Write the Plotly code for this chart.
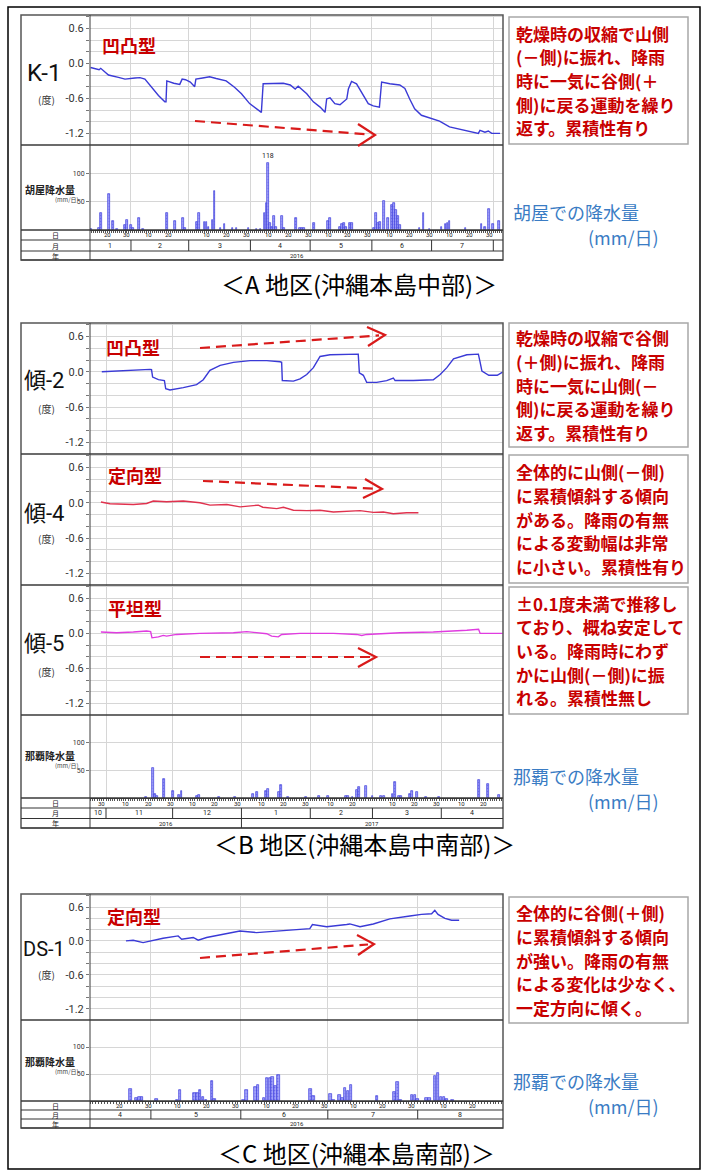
import pandas as pd
import plotly.graph_objects as go

W, H = 708, 1173

# ---------------- A 地区 (沖縄本島中部): K-1 と胡屋の日降水量 ----------------
A_BASE = "2016-01-01"                      # day numbers count from this date
A_RANGE = ["2016-01-11 10:00", "2016-08-05 21:00"]
k1_day = [10.7, 15.0, 15.8, 19.7, 24.7, 28.0, 33.0, 35.5, 38.0, 41.4, 44.8, 48.0, 48.6, 49.0,
          52.5, 55.5, 56.7, 58.4, 60.8, 63.0, 63.6, 67.0, 70.5, 73.8, 78.8, 83.0, 86.5, 90.6,
          95.6, 96.5, 97.4, 102.5, 107.5, 111.0, 113.5, 115.0, 119.3, 122.6, 126.0, 128.5,
          129.3, 131.0, 133.4, 136.0, 138.5, 139.4, 140.2, 141.8, 144.3, 146.8, 150.2, 152.7,
          155.8, 156.9, 161.0, 166.0, 168.6, 171.0, 173.5, 176.9, 181.0, 186.0, 191.0, 196.0,
          201.0, 205.5, 206.3, 208.8, 210.5, 212.2, 216.4]
k1_deg = [-0.07, -0.11, -0.085, -0.20, -0.24, -0.27, -0.25, -0.245, -0.27, -0.41, -0.55, -0.66, -0.66, -0.30,
          -0.34, -0.36, -0.27, -0.28, -0.32, -0.40, -0.27, -0.25, -0.23, -0.26, -0.30, -0.41, -0.52, -0.69,
          -0.81, -0.84, -0.35, -0.34, -0.34, -0.37, -0.44, -0.39, -0.52, -0.66, -0.75, -0.84,
          -0.61, -0.59, -0.69, -0.71, -0.64, -0.61, -0.44, -0.31, -0.35, -0.49, -0.69, -0.73,
          -0.75, -0.32, -0.35, -0.37, -0.43, -0.61, -0.78, -0.89, -0.94, -0.99, -1.09, -1.13,
          -1.16, -1.20, -1.15, -1.18, -1.16, -1.20, -1.20]
koya_day = [11, 15, 16, 20, 22, 24, 28, 29, 31, 32, 35, 37, 49, 53, 57, 58, 64, 65, 68, 69,
            70, 72, 73, 76, 78, 82, 84, 90, 94, 96, 98, 99, 100, 101, 102, 103, 104, 107, 108, 114,
            116, 117, 118, 123, 130, 131, 136, 137, 138, 139, 141, 142, 153, 154, 155, 156, 158, 160, 162, 163,
            164, 165, 166, 176, 178, 181, 187, 189, 190, 191, 199, 207, 209, 211, 213, 216]
koya_mm = [2, 3, 30, 64, 16, 2, 9, 18, 9, 4, 21, 2, 30, 16, 22, 3, 14, 30, 14, 15,
           6, 18, 69, 3, 10, 3, 4, 4, 2, 2, 30, 48, 118, 12, 5, 25, 5, 25, 3, 21,
           3, 4, 4, 12, 16, 22, 6, 10, 13, 6, 12, 12, 3, 30, 12, 14, 52, 21, 45, 48,
           36, 24, 8, 3, 30, 2, 6, 10, 12, 16, 3, 11, 5, 37, 10, 16]

# ---------------- B 地区 (沖縄本島中南部): 傾-2 / 傾-4 / 傾-5 と那覇の日降水量 ----------------
B_BASE = "2016-11-01"
B_RANGE = ["2016-10-24 19:00", "2017-04-28 19:00"]
kei2_day = [-1.9, 9.3, 19.8, 20.5, 21.0, 23.6, 26.3, 26.9, 28.8, 34.8,
            40.8, 43.8, 46.8, 51.4, 57.4, 64.9, 72.4, 78.4, 79.1, 79.4,
            84.4, 87.4, 90.4, 93.4, 96.4, 100.9, 108.4, 113.6, 114.1, 115.9,
            117.4, 121.9, 126.4, 129.4, 130.2, 138.4, 147.4, 150.5, 153.5, 156.5,
            162.5, 167.7, 168.5, 169.3, 172.4, 176.2, 178.6]
kei2_deg = [0.0, 0.024, 0.04, 0.035, -0.09, -0.135, -0.15, -0.29, -0.31, -0.27,
            -0.22, -0.135, 0.024, 0.11, 0.16, 0.19, 0.19, 0.17, 0.16, -0.15,
            -0.16, -0.12, -0.047, 0.07, 0.26, 0.29, 0.30, 0.30, -0.018, -0.06,
            -0.18, -0.18, -0.15, -0.106, -0.15, -0.15, -0.135, -0.047, 0.07, 0.22,
            0.29, 0.30, 0.16, 0.012, -0.06, -0.06, -0.006]
kei4_day = [-2.3, 1.8, 12.3, 18.3, 21.3, 27.3, 34.8, 42.3, 46.8, 54.4,
            60.4, 68.6, 70.6, 76.9, 79.9, 84.4, 90.4, 96.4, 102.4, 108.4,
            114.4, 120.4, 124.9, 129.4, 135.4, 140.7]
kei4_deg = [0.012, -0.017, -0.03, -0.012, 0.03, 0.017, 0.03, 0.0, -0.04, -0.03,
            -0.07, -0.04, -0.076, -0.10, -0.076, -0.128, -0.134, -0.128, -0.157, -0.15,
            -0.134, -0.163, -0.157, -0.186, -0.17, -0.17]
kei5_day = [-2.3, 4.8, 12.3, 18.3, 20.1, 20.7, 23.6, 25.8, 27.3, 31.8,
            42.3, 57.4, 63.4, 69.4, 72.4, 74.6, 77.6, 79.1, 87.4, 102.4,
            112.9, 115.2, 117.4, 132.4, 147.4, 162.5, 166.3, 167.8, 168.5, 178.6]
kei5_deg = [0.024, 0.012, 0.024, 0.04, 0.03, -0.076, -0.06, -0.035, -0.047, -0.018,
            0.0, 0.012, 0.03, 0.012, -0.006, -0.047, -0.06, -0.018, 0.0, 0.0,
            -0.018, -0.035, -0.018, 0.012, 0.024, 0.053, 0.07, 0.07, 0.0, 0.0]
nahaB_day = [18, 21, 22, 23, 26, 30, 33, 34, 41, 42, 51, 58, 66, 68, 72, 73, 78, 79, 82, 90,
             96, 100, 108, 109, 111, 113, 114, 117, 120, 124, 125, 129, 130, 132, 133, 137, 138, 140, 144, 150,
             168, 172, 177]
nahaB_mm = [2, 54, 7, 3, 35, 12, 5, 12, 3, 6, 1, 1, 7, 11, 12, 16, 10, 24, 2, 2,
            4, 4, 3, 3, 2, 15, 20, 22, 4, 4, 4, 7, 29, 4, 4, 7, 12, 10, 2, 2,
            32, 26, 5]

# ---------------- C 地区 (沖縄本島南部): DS-1 と那覇の日降水量 ----------------
C_BASE = "2016-05-01"
C_RANGE = ["2016-04-10 00:00", "2016-08-30 10:00"]
ds1_day = [-8.6, -6.1, -2.7, 0.8, 4.2, 9.4, 10.6, 14.6, 16.3, 19.2,
           23.8, 30.7, 36.4, 41.0, 45.6, 54.8, 55.7, 60.6, 67.5, 68.6,
           72.1, 76.7, 82.4, 85.9, 89.3, 93.3, 96.8, 97.9, 99.0, 101.4,
           103.7, 106.3]
ds1_deg = [0.0, 0.012, -0.03, 0.012, 0.047, 0.088, 0.03, 0.06, 0.012, 0.06,
           0.106, 0.176, 0.147, 0.165, 0.19, 0.218, 0.29, 0.25, 0.29, 0.30,
           0.25, 0.30, 0.39, 0.41, 0.44, 0.47, 0.48, 0.54, 0.47, 0.40,
           0.365, 0.365]
nahaC_day = [-7, -5, -4, -3, 2, 9, 10, 15, 16, 17, 18, 19, 21, 22, 32, 33, 36, 37, 39, 40,
             41, 42, 43, 44, 55, 56, 62, 63, 65, 66, 67, 68, 69, 78, 84, 85, 86, 90, 91, 92,
             95, 96, 98, 99, 100, 101, 102, 104]
nahaC_mm = [22, 5, 8, 8, 4, 2, 21, 14, 14, 21, 8, 2, 37, 3, 2, 21, 26, 30, 5, 43,
            43, 44, 28, 49, 22, 9, 13, 2, 12, 5, 24, 19, 30, 9, 17, 35, 2, 12, 12, 3,
            6, 5, 47, 51, 7, 8, 4, 2]

# ---------------- axis labels ----------------
DEG_RANGE = [-1.40, 0.83]
DEG_GRID = [-1.2, -1.0, -0.8, -0.6, -0.4, -0.2, 0.0, 0.2, 0.4, 0.6, 0.8]
DEG_LABELS = {-1.2: "-1.2", -0.6: "-0.6", 0.0: "0.0", 0.6: "0.6"}
RAIN_RANGE = [0, 150]
RAIN_TICKS = [50, 100]
RAIN_TICKTEXT = ["50", "100"]
DAY_MARKS = [10, 20, 30]
TABLE_ROWS = ["日", "月", "年"]

# ---------------- styling ----------------
JP = "Noto Sans CJK JP"
NARROW = "Liberation Sans Narrow, Arial Narrow, Roboto, Noto Sans CJK JP, sans-serif"
GRID = "#d6d6d6"
FRAME = "#555555"
RED = "#c80000"
ARROW = "#d91a1a"
BLUE_TXT = "#3a7cc4"
LINE_BLUE = "#3a3ad6"
BAR_FILL = "#a4a4fa"
BAR_EDGE = "#4040dc"

shapes, annotations = [], []


def X(x):
    return x / W


def Y(y):
    return 1 - y / H


def to_dates(base, days):
    b = pd.Timestamp(base)
    return [(b + pd.Timedelta(days=float(d))).strftime("%Y-%m-%d %H:%M") for d in days]


def hline(x0, x1, y, color=FRAME, width=1.0):
    shapes.append(dict(type="line", xref="paper", yref="paper", x0=X(x0), x1=X(x1),
                       y0=Y(y), y1=Y(y), line=dict(color=color, width=width)))


def vline(x, y0, y1, color=FRAME, width=1.0):
    shapes.append(dict(type="line", xref="paper", yref="paper", x0=X(x), x1=X(x),
                       y0=Y(y0), y1=Y(y1), line=dict(color=color, width=width)))


def rect(x0, y0, x1, y1, color=FRAME, width=1.0):
    shapes.append(dict(type="rect", xref="paper", yref="paper", x0=X(x0), x1=X(x1),
                       y0=Y(y1), y1=Y(y0), line=dict(color=color, width=width)))


def text(x, y, s, size, color="#000", family=JP, xanchor="center", align="center"):
    annotations.append(dict(xref="paper", yref="paper", x=X(x), y=Y(y), text=s, showarrow=False,
                            xanchor=xanchor, yanchor="middle", align=align,
                            font=dict(family=family, size=size, color=color)))


def arrow(tail, tip, wing1, wing2):
    shapes.append(dict(type="line", xref="paper", yref="paper",
                       x0=X(tail[0]), y0=Y(tail[1]), x1=X(tip[0] - 6),
                       y1=Y(tip[1] + (tail[1] - tip[1]) * 6 / (tip[0] - tail[0])),
                       line=dict(color=ARROW, width=2.2, dash="10px,6px")))
    path = "M {} {} L {} {} L {} {}".format(X(wing1[0]), Y(wing1[1]), X(tip[0]), Y(tip[1]),
                                            X(wing2[0]), Y(wing2[1]))
    shapes.append(dict(type="path", xref="paper", yref="paper", path=path,
                       line=dict(color=ARROW, width=2.2)))


def month_starts(rng):
    s, e = pd.Timestamp(rng[0]), pd.Timestamp(rng[1])
    return [m for m in pd.date_range(s.to_period("M").to_timestamp(), e, freq="MS") if s < m < e]


def draw_table(xa, rng, y_day, y_mon, y_year, y_bot):
    s, e = pd.Timestamp(rng[0]), pd.Timestamp(rng[1])
    edge = pd.Timedelta(days=1.5)
    for y in (y_mon, y_year, y_bot):
        hline(21, 503, y, color="#333", width=1)
    for lbl, (a, b) in zip(TABLE_ROWS, [(y_day, y_mon), (y_mon, y_year), (y_year, y_bot)]):
        text(55, (a + b) / 2, lbl, 7, color="#222")
    ms = month_starts(rng)
    for m in ms:
        shapes.append(dict(type="line", xref=xa, yref="paper", x0=m.strftime("%Y-%m-%d"), x1=m.strftime("%Y-%m-%d"),
                           y0=Y(y_year), y1=Y(y_mon), line=dict(color="#333", width=1)))
    bounds = [s] + ms + [e]
    for a, b in zip(bounds[:-1], bounds[1:]):
        if (b - a).days >= 6:
            mid = a + (b - a) / 2
            annotations.append(dict(xref=xa, yref="paper", x=mid.strftime("%Y-%m-%d %H:%M"), y=Y((y_mon + y_year) / 2),
                                    text=str(a.month), showarrow=False, yanchor="middle",
                                    font=dict(family=NARROW, size=7, color="#222")))
    for m in pd.date_range(s.to_period("M").to_timestamp(), e, freq="MS"):
        for d in DAY_MARKS:
            if d <= m.days_in_month:
                t = m + pd.Timedelta(days=d - 1)
                if s + edge < t < e - edge:
                    annotations.append(dict(xref=xa, yref="paper", x=t.strftime("%Y-%m-%d"), y=Y((y_day + y_mon) / 2),
                                            text=str(d), showarrow=False, yanchor="middle",
                                            font=dict(family=NARROW, size=6, color="#222")))
    years = sorted({s.year, e.year})
    for yr in years:
        a = max(s, pd.Timestamp(f"{yr}-01-01"))
        b = min(e, pd.Timestamp(f"{yr + 1}-01-01"))
        mid = a + (b - a) / 2
        annotations.append(dict(xref=xa, yref="paper", x=mid.strftime("%Y-%m-%d %H:%M"), y=Y((y_year + y_bot) / 2),
                                text=str(yr), showarrow=False, yanchor="middle",
                                font=dict(family=NARROW, size=6, color="#222")))
        if yr != years[0]:
            shapes.append(dict(type="line", xref=xa, yref="paper", x0=f"{yr}-01-01", x1=f"{yr}-01-01",
                               y0=Y(y_bot), y1=Y(y_year), line=dict(color="#333", width=1)))


# ---------------- panels ----------------
panels = [
    (1, 15, 145, "deg", A_RANGE),
    (2, 145, 230, "rain", A_RANGE),
    (3, 323, 454, "deg", B_RANGE),
    (4, 454, 585, "deg", B_RANGE),
    (5, 585, 715, "deg", B_RANGE),
    (6, 715, 798, "rain", B_RANGE),
    (7, 894, 1020, "deg", C_RANGE),
    (8, 1020, 1101, "rain", C_RANGE),
]

fig = go.Figure()
layout = {}
for i, top, bot, kind, rng in panels:
    sx = "" if i == 1 else str(i)
    ms = [m.strftime("%Y-%m-%d") for m in month_starts(rng)]
    xa = dict(domain=[X(90), X(503)], type="date", range=rng, anchor="y" + sx,
              tickmode="array", tickvals=ms, showticklabels=False, ticks="",
              showgrid=True, gridcolor=GRID, gridwidth=1, zeroline=False, showline=False,
              fixedrange=True, automargin=False)
    ya = dict(domain=[Y(bot), Y(top)], anchor="x" + sx, zeroline=False, showline=False,
              fixedrange=True, automargin=False, showgrid=True, gridcolor=GRID, gridwidth=1)
    if kind == "rain":
        xa.update(showline=True, linecolor="#333", linewidth=1,
                  minor=dict(tick0=rng[0][:10], dtick=86400000, ticks="outside", ticklen=2,
                             tickcolor="#555", tickwidth=1, showgrid=False))
        ya.update(range=RAIN_RANGE, tickmode="array", tickvals=RAIN_TICKS, ticktext=RAIN_TICKTEXT,
                  ticks="outside", ticklen=3, tickcolor="#777",
                  tickfont=dict(family=NARROW, size=7, color="#333"))
    else:
        ya.update(range=DEG_RANGE, tickmode="array", tickvals=DEG_GRID,
                  ticktext=[DEG_LABELS.get(round(v, 1), "") for v in DEG_GRID],
                  ticks="outside", ticklen=3, tickcolor="#777",
                  tickfont=dict(family=NARROW, size=11, color="#333"))
    layout["xaxis" + sx] = xa
    layout["yaxis" + sx] = ya


def add_line(i, base, days, vals, color):
    sx = "" if i == 1 else str(i)
    fig.add_trace(go.Scatter(x=to_dates(base, days), y=vals, mode="lines", xaxis="x" + sx, yaxis="y" + sx,
                             line=dict(color=color, width=1.4), showlegend=False, hoverinfo="skip"))


def add_rain(i, base, days, vals):
    fig.add_trace(go.Bar(x=to_dates(base, days), y=vals, xaxis=f"x{i}", yaxis=f"y{i}",
                         width=86400000 * 0.85, showlegend=False, hoverinfo="skip",
                         marker=dict(color=BAR_FILL, line=dict(color=BAR_EDGE, width=0.7),
                                     pattern=dict(shape=".", fillmode="overlay", fgcolor=BAR_EDGE,
                                                  size=3, solidity=0.3))))


add_line(1, A_BASE, k1_day, k1_deg, LINE_BLUE)
add_rain(2, A_BASE, koya_day, koya_mm)
add_line(3, B_BASE, kei2_day, kei2_deg, LINE_BLUE)
add_line(4, B_BASE, kei4_day, kei4_deg, "#e0324e")
add_line(5, B_BASE, kei5_day, kei5_deg, "#e03ce0")
add_rain(6, B_BASE, nahaB_day, nahaB_mm)
add_line(7, C_BASE, ds1_day, ds1_deg, LINE_BLUE)
add_rain(8, C_BASE, nahaC_day, nahaC_mm)

# peak value label on the 胡屋 rainfall
pk = koya_mm.index(max(koya_mm))
annotations.append(dict(xref="x2", yref="y2", x=to_dates(A_BASE, [koya_day[pk]])[0], y=koya_mm[pk],
                        text=str(koya_mm[pk]), showarrow=False, yanchor="bottom", yshift=1,
                        font=dict(family=NARROW, size=7, color="#222")))

# ---------------- frames, separators, tables ----------------
rect(8, 7, 700, 1169, color="#000", width=1.5)
for top, bot, seps in [(15, 260, [145, 230]), (323, 828, [454, 585, 715, 798]), (894, 1128, [1020, 1101])]:
    rect(21, top, 503, bot, color=FRAME, width=1.5)
    for s in seps:
        hline(21, 503, s, color="#3a3a3a", width=1.5)
    vline(90, top, bot, color="#3a3a3a", width=1)

draw_table("x2", A_RANGE, 230, 240, 251, 260)
draw_table("x6", B_RANGE, 798, 808, 818.5, 828)
draw_table("x8", C_RANGE, 1101, 1110, 1119, 1128)

# ---------------- panel labels ----------------
for name, ycen, ydeg, size in [("K-1", 73, 100, 24), ("傾-2", 381, 409, 22), ("傾-4", 513, 539, 22),
                               ("傾-5", 643, 671, 22), ("DS-1", 949, 974, 20)]:
    text(44, ycen, name, size, color="#111", family=NARROW)
    text(46, ydeg, "(度)", 10, color="#333")

for name, yc in [("胡屋降水量", 190), ("那覇降水量", 755), ("那覇降水量", 1061)]:
    text(50, yc, "<b>" + name + "</b>", 10, color="#222")
    text(67, yc + 10, "(mm/日)", 6, color="#444")

for s, x, y in [("凹凸型", 129, 45), ("凹凸型", 133, 347), ("定向型", 135, 475),
                ("平坦型", 135, 608), ("定向型", 134, 916)]:
    text(x, y, "<b>" + s + "</b>", 18, color=RED)

arrow((195, 121), (375, 135), (358, 124), (358, 146))
arrow((200, 348), (385, 335), (367, 327), (368, 346))
arrow((203, 481), (382, 489), (365, 479), (363, 498))
arrow((200, 657), (376, 657), (358, 648), (358, 667))
arrow((200, 958), (374, 944), (357, 935), (358, 955))

# ---------------- explanation boxes (one annotation per line) ----------------
LINE_STEP = 23.7
notes = [
    (17, 144, ["乾燥時の収縮で山側", "(－側)に振れ、降雨", "時に一気に谷側(＋", "側)に戻る運動を繰り", "返す。累積性有り"]),
    (323, 447, ["乾燥時の収縮で谷側", "(＋側)に振れ、降雨", "時に一気に山側(－", "側)に戻る運動を繰り", "返す。累積性有り"]),
    (455, 583, ["全体的に山側(－側)", "に累積傾斜する傾向", "がある。降雨の有無", "による変動幅は非常", "に小さい。累積性有り"]),
    (587, 714, ["±0.1度未満で推移し", "ており、概ね安定して", "いる。降雨時にわず", "かに山側(－側)に振", "れる。累積性無し"]),
    (897, 1023, ["全体的に谷側(＋側)", "に累積傾斜する傾向", "が強い。降雨の有無", "による変化は少なく、", "一定方向に傾く。"]),
]
for top, bot, lines in notes:
    rect(509, top, 688, bot, color="#a8a8a8", width=1.5)
    mid = (top + bot) / 2
    for k, s in enumerate(lines):
        text(514, mid + (k - 2) * LINE_STEP, "<b>" + s + "</b>", 17, color=RED, xanchor="left", align="left")

for name, y in [("胡屋での降水量", 212), ("那覇での降水量", 776), ("那覇での降水量", 1081)]:
    text(511, y, name, 18, color=BLUE_TXT, xanchor="left", align="left")
    text(623, y + 25, "(mm/日)", 18, color=BLUE_TXT)

# ---------------- section titles ----------------
text(359, 283, "＜A 地区(沖縄本島中部)＞", 24)
text(364, 843, "＜B 地区(沖縄本島中南部)＞", 24)
text(356, 1152, "＜C 地区(沖縄本島南部)＞", 24)

fig.update_layout(**layout)
fig.update_layout(width=W, height=H, margin=dict(l=0, r=0, t=0, b=0), autosize=False,
                  paper_bgcolor="white", plot_bgcolor="white", bargap=0,
                  shapes=shapes, annotations=annotations, showlegend=False)
fig.write_html("out.html")
